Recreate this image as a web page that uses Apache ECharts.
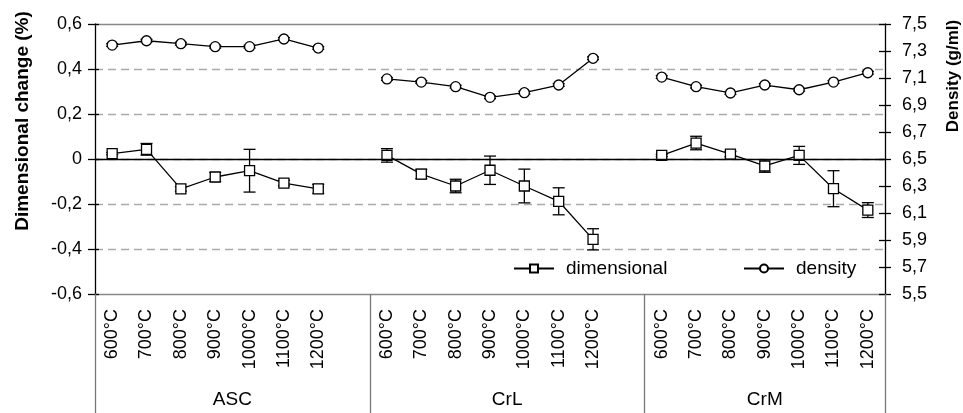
<!DOCTYPE html>
<html>
<head>
<meta charset="utf-8">
<script src="https://cdn.jsdelivr.net/npm/echarts@6/dist/echarts.min.js"></script>
<style>html,body{margin:0;padding:0;background:#fff}#c{width:963px;height:413px}</style>
</head>
<body>
<div id="c"></div>
<script>
// ---- data ----
var temps = ['600°C','700°C','800°C','900°C','1000°C','1100°C','1200°C'];
var groups = ['ASC','CrL','CrM'];
var dimASC = [0.024, 0.043, -0.133, -0.080, -0.052, -0.107, -0.133];
var dimCrL = [0.016, -0.067, -0.120, -0.050, -0.120, -0.188, -0.357];
var dimCrM = [0.016, 0.071, 0.022, -0.031, 0.016, -0.132, -0.227];
var dimErrASC = [0.005, 0.026, 0.010, 0.020, 0.095, 0.012, 0.020];
var dimErrCrL = [0.030, 0.021, 0.030, 0.063, 0.075, 0.060, 0.047];
var dimErrCrM = [0.005, 0.030, 0.012, 0.028, 0.040, 0.080, 0.033];
var denASC = [7.344, 7.376, 7.354, 7.332, 7.332, 7.389, 7.322];
var denCrL = [7.093, 7.070, 7.036, 6.957, 6.991, 7.048, 7.246];
var denCrM = [7.107, 7.036, 6.989, 7.048, 7.013, 7.070, 7.139];
var denErrASC = [0.01, 0.01, 0.01, 0.01, 0.01, 0.01, 0.01];
var denErrCrL = [0.01, 0.01, 0.01, 0.01, 0.01, 0.01, 0.01];
var denErrCrM = [0.01, 0.01, 0.01, 0.01, 0.01, 0.01, 0.01];
var leftTicks = {min: -0.6, max: 0.6, interval: 0.2};
var rightTicks = {min: 5.5, max: 7.5, interval: 0.2};

// ---- build ----
function joinGroups(a, b, c) { return a.concat([null], b, [null], c); }
var cats = joinGroups(temps, temps, temps).map(function (t) { return t === null ? '' : t; });
var dimAll = joinGroups(dimASC, dimCrL, dimCrM);
var dimErrAll = joinGroups(dimErrASC, dimErrCrL, dimErrCrM);
var denAll = joinGroups(denASC, denCrL, denCrM);
var denErrAll = joinGroups(denErrASC, denErrCrL, denErrCrM);
function errData(vals, errs) {
  var out = [];
  vals.forEach(function (v, i) { if (v !== null) out.push([i, v, errs[i]]); });
  return out;
}
// group layer: half-category points, boundaries and centres
var nCat = cats.length;            // 23
var nHalf = nCat * 2;               // 46
var groupStart = [0, 8, 16];
var groupEnd = [8, 16, 23];
var halfData = []; for (var j = 0; j <= nHalf; j++) halfData.push(String(j));
var boundaryIdx = [0, 16, 32, 46];
var labelAt = {};
groups.forEach(function (g, k) { labelAt[groupStart[k] + groupEnd[k]] = g; });

var FONT = 'Liberation Sans, Arial, sans-serif';
function commaFmt(v) { if (Math.abs(v) < 1e-9) return '0'; return v.toFixed(1).replace('.', ','); }

function errRender(capHalf) {
  return function (params, api) {
    var x = api.value(0), v = api.value(1), e = api.value(2);
    var top = api.coord([x, v + e]);
    var bot = api.coord([x, v - e]);
    var st = {stroke: '#000', lineWidth: 1.3};
    return {type: 'group', children: [
      {type: 'line', shape: {x1: top[0], y1: top[1], x2: bot[0], y2: bot[1]}, style: st},
      {type: 'line', shape: {x1: top[0] - capHalf, y1: top[1], x2: top[0] + capHalf, y2: top[1]}, style: st},
      {type: 'line', shape: {x1: bot[0] - capHalf, y1: bot[1], x2: bot[0] + capHalf, y2: bot[1]}, style: st}
    ]};
  };
}

var chart = echarts.init(document.getElementById('c'), null, {renderer: 'canvas'});
var tickFont = {fontFamily: FONT, fontSize: 18, color: '#000'};
var legendText = {fontFamily: FONT, fontSize: 19, color: '#000', padding: [0, 0, 0, 7]};
var option = {
  animation: false,
  textStyle: {fontFamily: FONT},
  grid: {left: 95, right: 78, top: 24, bottom: 119, containLabel: false},
  legend: [
    {data: ['dimensional'], left: 513, top: 259, padding: 0, itemWidth: 40, itemHeight: 10, textStyle: legendText},
    {data: ['density'], left: 743, top: 259, padding: 0, itemWidth: 40, itemHeight: 10, textStyle: legendText}
  ],
  xAxis: [
    {type: 'category', data: cats, position: 'bottom', boundaryGap: true,
     axisLine: {show: true, onZero: false, lineStyle: {color: '#888', width: 1.3}},
     axisTick: {show: false},
     axisLabel: Object.assign({interval: 0, rotate: 90, margin: 15}, tickFont),
     splitLine: {show: false}},
    {type: 'category', data: cats, position: 'top', boundaryGap: true,
     axisLine: {show: true, onZero: false, lineStyle: {color: '#888', width: 1.3}},
     axisTick: {show: false}, axisLabel: {show: false}, splitLine: {show: false}},
    {type: 'category', data: halfData, position: 'bottom', boundaryGap: false,
     axisLine: {show: false, onZero: false},
     axisTick: {show: true, length: 130, interval: function (idx) { return boundaryIdx.indexOf(idx) >= 0; },
                lineStyle: {color: '#777', width: 1.3}},
     axisLabel: {interval: 0, margin: 96, fontFamily: FONT, fontSize: 19, color: '#000',
                 formatter: function (v, idx) { return labelAt[idx] || ''; }},
     splitLine: {show: false}}
  ],
  yAxis: [
    {type: 'value', position: 'left', min: leftTicks.min, max: leftTicks.max, interval: leftTicks.interval,
     axisLine: {show: true, onZero: false, lineStyle: {color: '#000', width: 1.3}},
     axisTick: {show: true, length: 7, lineStyle: {color: '#000', width: 1.3}},
     axisLabel: Object.assign({margin: 13, formatter: commaFmt}, tickFont),
     splitLine: {show: true, showMinLine: false, showMaxLine: false, lineStyle: {color: '#aaa', type: [8, 5], width: 1.3}}},
    {type: 'value', position: 'right', min: rightTicks.min, max: rightTicks.max, interval: rightTicks.interval,
     axisLine: {show: true, onZero: false, lineStyle: {color: '#000', width: 1.3}},
     axisTick: {show: true, length: 6, lineStyle: {color: '#000', width: 1.3}},
     axisLabel: Object.assign({margin: 17, formatter: commaFmt}, tickFont),
     splitLine: {show: false}},
    {type: 'value', position: 'left', min: leftTicks.min, max: leftTicks.max, interval: leftTicks.interval,
     axisLine: {show: false}, axisTick: {show: true, inside: true, length: 4, lineStyle: {color: '#000', width: 1.3}},
     axisLabel: {show: false}, splitLine: {show: false}},
    {type: 'value', position: 'right', min: rightTicks.min, max: rightTicks.max, interval: rightTicks.interval,
     axisLine: {show: false}, axisTick: {show: true, inside: true, length: 6, lineStyle: {color: '#000', width: 1.3}},
     axisLabel: {show: false}, splitLine: {show: false}}
  ],
  graphic: [
    {type: 'text', x: 23, y: 121, rotation: Math.PI / 2,
     style: {text: 'Dimensional change (%)', font: 'bold 19px ' + FONT, fill: '#000', align: 'center', verticalAlign: 'middle'}},
    {type: 'text', x: 953, y: 76, rotation: Math.PI / 2,
     style: {text: 'Density (g/ml)', font: 'bold 17px ' + FONT, fill: '#000', align: 'center', verticalAlign: 'middle'}}
  ],
  series: [
    {type: 'custom', name: 'dimErr', xAxisIndex: 0, yAxisIndex: 0, z: 1, silent: true,
     renderItem: errRender(6), data: errData(dimAll, dimErrAll), encode: {x: 0, y: 1}},
    {type: 'custom', name: 'denErr', xAxisIndex: 0, yAxisIndex: 1, z: 1, silent: true,
     renderItem: errRender(6), data: errData(denAll, denErrAll), encode: {x: 0, y: 1}},
    {type: 'line', name: 'dimensional', xAxisIndex: 0, yAxisIndex: 0, z: 3, data: dimAll,
     connectNulls: false, symbol: 'rect', symbolSize: 10, showAllSymbol: true,
     lineStyle: {color: '#000', width: 1.3}, itemStyle: {color: '#fff', borderColor: '#000', borderWidth: 1.3},
     markLine: {silent: true, symbol: 'none', label: {show: false}, lineStyle: {color: '#000', type: 'solid', width: 1.3},
                data: [{yAxis: 0}]}},
    {type: 'line', name: 'density', xAxisIndex: 0, yAxisIndex: 1, z: 3, data: denAll,
     connectNulls: false, symbol: 'circle', symbolSize: 10, showAllSymbol: true,
     lineStyle: {color: '#000', width: 1.3}, itemStyle: {color: '#fff', borderColor: '#000', borderWidth: 1.3}}
  ]
};
chart.setOption(option);
</script>
</body>
</html>
